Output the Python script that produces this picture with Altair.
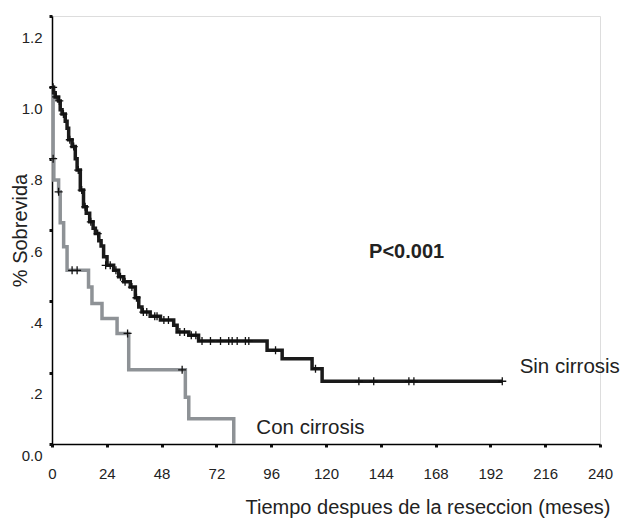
import altair as alt
import pandas as pd

# ---- data ----
sin_t = [0, 0.7, 1.4, 2.9, 3.6, 4.4, 5.8, 6.6, 7.3, 8.8, 10.2, 11.0, 12.4, 13.8, 15.0,
         16.5, 18.0, 19.0, 20.5, 21.5, 22.6, 24.1, 27.0, 29.2, 31.4, 34.3, 36.5, 38.0,
         39.4, 43.0, 47.5, 53.3, 54.8, 59.9, 64.2, 94.2, 100.8, 113.9, 118.3, 197.2]
sin_s = [1.0, 0.985, 0.973, 0.962, 0.937, 0.925, 0.905, 0.885, 0.853, 0.834, 0.80, 0.768,
         0.712, 0.665, 0.647, 0.623, 0.605, 0.59, 0.57, 0.555, 0.525, 0.501, 0.487, 0.469,
         0.455, 0.44, 0.41, 0.384, 0.37, 0.358, 0.348, 0.333, 0.314, 0.305, 0.289, 0.263,
         0.239, 0.211, 0.176, 0.176]

con_t = [0, 0.5, 0.8, 2.9, 3.6, 5.1, 6.6, 16.0, 17.5, 21.9, 28.5, 33.6, 58.4, 59.9, 79.6]
con_s = [1.0, 0.80, 0.74, 0.707, 0.62, 0.553, 0.487, 0.44, 0.394, 0.352, 0.31, 0.208,
         0.131, 0.071, 0.0]

sin_cens_t = [0.5, 1.8, 3.2, 5.0, 7.8, 9.5, 11.5, 13.0, 14.5, 17.0, 20.0, 23.5, 25.5,
              28.0, 30.0, 32.0, 35.0, 37.0, 40.0, 41.5, 45.0, 46.0, 49.0, 51.0, 56.0,
              58.0, 61.0, 63.0, 65.7, 69.4, 73.8, 77.4, 78.9, 81.1, 84.7, 86.2, 97.9,
              115.4, 134.4, 140.9, 156.3, 158.5, 197.2]
sin_cens_s = [1.0, 0.973, 0.962, 0.925, 0.853, 0.834, 0.768, 0.712, 0.665, 0.623, 0.59,
              0.501, 0.501, 0.487, 0.469, 0.455, 0.44, 0.41, 0.37, 0.37, 0.358, 0.358,
              0.348, 0.348, 0.314, 0.314, 0.305, 0.305, 0.289, 0.289, 0.289, 0.289,
              0.289, 0.289, 0.289, 0.289, 0.263, 0.211, 0.176, 0.176, 0.176, 0.176, 0.176]

con_cens_t = [0.5, 2.9, 8.8, 11.0, 33.1, 57.0]
con_cens_s = [0.80, 0.707, 0.487, 0.487, 0.31, 0.208]

x_ticks = [0, 24, 48, 72, 96, 120, 144, 168, 192, 216, 240]
y_ticks = [0, 0.2, 0.4, 0.6, 0.8, 1.0, 1.2]

labels_txt = ["Sin cirrosis", "Con cirrosis"]
labels_t = [204.8, 89.5]
labels_s = [0.215, 0.044]
p_txt = ["P<0.001"]
p_t = [155.3]
p_s = [0.539]

# ---- tables ----
curves = pd.concat([
    pd.DataFrame({"t": con_t, "s": con_s, "g": "Con cirrosis", "o": 0}),
    pd.DataFrame({"t": sin_t, "s": sin_s, "g": "Sin cirrosis", "o": 1}),
])
cens = pd.concat([
    pd.DataFrame({"t": con_cens_t, "s": con_cens_s}),
    pd.DataFrame({"t": sin_cens_t, "s": sin_cens_s}),
])
ann = pd.DataFrame({"t": labels_t, "s": labels_s, "txt": labels_txt})
pann = pd.DataFrame({"t": p_t, "s": p_s, "txt": p_txt})

FONT = "Liberation Sans"

xsc = alt.Scale(domain=[0, 240], nice=False, zero=False)
ysc = alt.Scale(domain=[0, 1.2], nice=False)

xaxis = alt.Axis(values=x_ticks, grid=False, domainColor="black", domainWidth=1.5,
                 tickColor="#111", tickWidth=3, tickSize=3, labelFont=FONT,
                 labelFontSize=15, labelColor="#222", labelBaseline="middle",
                 labelPadding=26, labelFlush=False,
                 title="Tiempo despues de la reseccion (meses)", titleFont=FONT,
                 titleFontSize=20, titleFontWeight="normal", titleColor="#222",
                 titleX=558, titleY=63, titleAlign="right", titleBaseline="middle")

yaxis = alt.Axis(values=y_ticks, grid=False, domainColor="black", domainWidth=1.5,
                 tickColor="#111", tickWidth=3, tickSize=3, labelFont=FONT,
                 labelFontSize=15, labelColor="#222", labelPadding=7,
                 labelExpr="datum.value == 0 ? '0.0' : (datum.value >= 1 ? format(datum.value, '.1f') : replace(format(datum.value, '.1f'), '0.', '.'))",
                 labelOffset={"condition": {"test": "datum.value == 0", "value": 11}, "value": 21},
                 labelFlush=False,
                 title="% Sobrevida", titleFont=FONT, titleFontSize=20,
                 titleFontWeight="normal", titleColor="#222",
                 titleX=-32, titleY=214, titleAngle=270, titleAlign="center",
                 titleBaseline="middle")

lines = alt.Chart(curves).mark_line(interpolate="step-after", strokeWidth=3.5).encode(
    x=alt.X("t:Q", scale=xsc, axis=xaxis),
    y=alt.Y("s:Q", scale=ysc, axis=yaxis),
    color=alt.Color("g:N", scale=alt.Scale(domain=["Con cirrosis", "Sin cirrosis"],
                                           range=["#8e9296", "#1a1a1a"]), legend=None),
    order=alt.Order("o:Q"),
    detail="g:N",
)

marks = alt.Chart(cens).mark_point(shape="M-1,0L1,0M0,-1L0,1", size=64, strokeWidth=1.3,
                                   color="#111", filled=False, opacity=1).encode(
    x=alt.X("t:Q", scale=xsc), y=alt.Y("s:Q", scale=ysc))

labels = alt.Chart(ann).mark_text(align="left", baseline="middle", font=FONT, fontSize=20.5,
                                  color="#222").encode(
    x=alt.X("t:Q", scale=xsc), y=alt.Y("s:Q", scale=ysc), text="txt:N")

plabel = alt.Chart(pann).mark_text(align="center", baseline="middle", font=FONT,
                                   fontSize=20, fontWeight="bold", color="#222").encode(
    x=alt.X("t:Q", scale=xsc), y=alt.Y("s:Q", scale=ysc), text="txt:N")

chart = (lines + marks + labels + plabel).properties(
    width=548, height=428,
    autosize=alt.AutoSizeParams(type="none"),
    padding={"left": 44, "top": 8, "right": 20, "bottom": 74},
).configure_view(stroke=None).configure(background="white")

chart.save("out.html", embed_options={"renderer": "svg", "actions": False})
